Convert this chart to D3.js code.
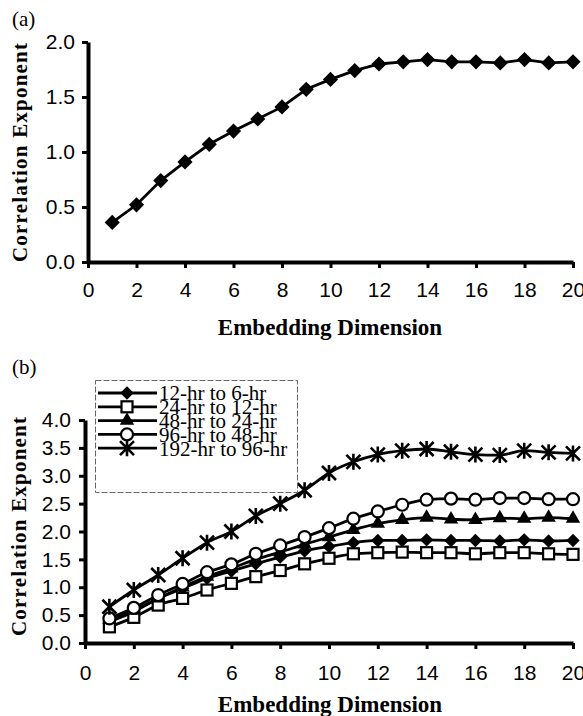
<!DOCTYPE html>
<html>
<head>
<meta charset="utf-8">
<script src="https://cdn.jsdelivr.net/npm/d3@7"></script>
<style>
  body { margin: 0; background: #fff; }
  svg { display: block; font-family: "Liberation Serif", "Times New Roman", serif; }
</style>
</head>
<body>
<svg id="chart" width="583" height="716"></svg>
<script>
// data
var dims = [1, 2, 3, 4, 5, 6, 7, 8, 9, 10, 11, 12, 13, 14, 15, 16, 17, 18, 19, 20];
var xTicks = [0, 2, 4, 6, 8, 10, 12, 14, 16, 18, 20];
var yTicksA = [0, 0.5, 1, 1.5, 2];
var yTicksB = [0, 0.5, 1, 1.5, 2, 2.5, 3, 3.5, 4];

var panelA = [0.36, 0.52, 0.74, 0.91, 1.07, 1.19, 1.30, 1.41, 1.57, 1.66, 1.74, 1.80, 1.82, 1.84, 1.82, 1.82, 1.81, 1.84, 1.81, 1.82];

var s12 = [0.38, 0.56, 0.80, 0.98, 1.16, 1.29, 1.42, 1.54, 1.65, 1.73, 1.80, 1.84, 1.84, 1.85, 1.84, 1.84, 1.83, 1.85, 1.83, 1.84];
var s24 = [0.29, 0.46, 0.68, 0.80, 0.95, 1.07, 1.19, 1.30, 1.42, 1.52, 1.60, 1.62, 1.63, 1.62, 1.62, 1.60, 1.62, 1.62, 1.60, 1.59];
var s48 = [0.42, 0.58, 0.80, 1.00, 1.19, 1.34, 1.50, 1.63, 1.77, 1.90, 2.03, 2.14, 2.21, 2.25, 2.22, 2.21, 2.24, 2.23, 2.25, 2.23];
var s96 = [0.44, 0.63, 0.86, 1.06, 1.27, 1.41, 1.60, 1.75, 1.90, 2.06, 2.23, 2.36, 2.48, 2.57, 2.59, 2.57, 2.60, 2.60, 2.58, 2.58];
var s192 = [0.65, 0.95, 1.22, 1.52, 1.80, 2.00, 2.28, 2.50, 2.74, 3.05, 3.25, 3.38, 3.45, 3.48, 3.43, 3.38, 3.37, 3.45, 3.42, 3.40];

var seriesNames = ["12-hr to 6-hr", "24-hr to 12-hr", "48-hr to 24-hr", "96-hr to 48-hr", "192-hr to 96-hr"];
var seriesMarkers = ["diamond", "square", "triangle", "circle", "star"];
var seriesValues = [s12, s24, s48, s96, s192];

var svg = d3.select("#chart");

// draws one marker at 0,0 inside g
function marker(g, type, big) {
	if (type == "diamond") {
		g.append("path").attr("d", d3.symbol(d3.symbolSquare, big ? 115 : 90)())
			.attr("transform", "rotate(45)").attr("fill", "#000");
	} else if (type == "square") {
		g.append("rect").attr("x", -5.5).attr("y", -5.5).attr("width", 11).attr("height", 11)
			.attr("fill", "#fff").attr("stroke", "#000").attr("stroke-width", 2.2);
	} else if (type == "triangle") {
		g.append("path").attr("d", d3.symbol(d3.symbolTriangle, 90)()).attr("fill", "#000");
	} else if (type == "circle") {
		g.append("circle").attr("r", 6).attr("fill", "#fff").attr("stroke", "#000").attr("stroke-width", 2.2);
	} else if (type == "star") {
		var s = 7;
		g.append("path").attr("d", "M" + (-s) + "," + (-s) + "L" + s + "," + s + "M" + s + "," + (-s) + "L" + (-s) + "," + s + "M0," + (-s - 1) + "L0," + (s + 1))
			.attr("stroke", "#000").attr("stroke-width", 2.6).attr("fill", "none");
	}
}

function drawAxes(x, y, yTicks, yFmt, xPad, yPad) {
	var xa = svg.append("g").attr("transform", "translate(0," + y.range()[0] + ")")
		.call(d3.axisBottom(x).tickValues(xTicks).tickSize(6).tickSizeOuter(0).tickPadding(xPad).tickFormat(d3.format("d")));
	var ya = svg.append("g").attr("transform", "translate(" + x.range()[0] + ",0)")
		.call(d3.axisLeft(y).tickValues(yTicks).tickSize(6).tickSizeOuter(0).tickPadding(yPad).tickFormat(yFmt));
	[xa, ya].forEach(function(a) {
		a.select(".domain").attr("stroke", "#000").attr("stroke-width", 4);
		a.selectAll(".tick line").attr("stroke", "#000").attr("stroke-width", 3);
		a.selectAll(".tick text").attr("fill", "#000").style("font-size", "21px");
	});
}

function titles(cx, xTitleY, yTitleX, yTitleY, label, labelY) {
	svg.append("text").attr("x", cx).attr("y", xTitleY).attr("text-anchor", "middle")
		.style("font-size", "23px").style("font-weight", "bold").text("Embedding Dimension");
	svg.append("text").attr("transform", "translate(" + yTitleX + "," + yTitleY + ") rotate(-90)")
		.attr("text-anchor", "middle").style("font-size", "21px").style("font-weight", "bold")
		.style("letter-spacing", "1.2px").text("Correlation Exponent");
	svg.append("text").attr("x", 12).attr("y", labelY).style("font-size", "21px").text(label);
}

// panel (a)
var xA = d3.scaleLinear().domain([0, 20]).range([88, 573]);
var yA = d3.scaleLinear().domain([0, 2]).range([262, 42]);
drawAxes(xA, yA, yTicksA, d3.format(".1f"), 14, 7);
titles(330, 335, 27, 152, "(a)", 26);

var lineA = d3.line().x(function(d, i) { return xA(dims[i]); }).y(function(d) { return yA(d); });
svg.append("path").datum(panelA).attr("d", lineA).attr("fill", "none").attr("stroke", "#000").attr("stroke-width", 2.8);
svg.selectAll(".ptA").data(panelA).enter().append("g").attr("class", "ptA")
	.attr("transform", function(d, i) { return "translate(" + xA(dims[i]) + "," + yA(d) + ")"; })
	.each(function() { marker(d3.select(this), "diamond", true); });

// panel (b)
var xB = d3.scaleLinear().domain([0, 20]).range([85, 573]);
var yB = d3.scaleLinear().domain([0, 4]).range([643, 420]);
drawAxes(xB, yB, yTicksB, d3.format(".1f"), 16, 8);
titles(330, 712, 26, 526, "(b)", 374);

var lineB = d3.line().curve(d3.curveMonotoneX)
	.x(function(d, i) { return xB(dims[i]); }).y(function(d) { return yB(d); });

seriesValues.forEach(function(vals, k) {
	var g = svg.append("g");
	g.append("path").datum(vals).attr("d", lineB).attr("fill", "none").attr("stroke", "#000").attr("stroke-width", 2.8);
	g.selectAll("g").data(vals).enter().append("g")
		.attr("transform", function(d, i) { return "translate(" + xB(dims[i]) + "," + yB(d) + ")"; })
		.each(function() { marker(d3.select(this), seriesMarkers[k], false); });
});

// legend
var leg = svg.append("g");
leg.append("rect").attr("x", 95.5).attr("y", 380.5).attr("width", 202).attr("height", 112)
	.attr("fill", "#fff").attr("stroke", "#666").attr("stroke-width", 1).attr("stroke-dasharray", "6,2");
seriesNames.forEach(function(name, k) {
	var ry = 393 + k * 13.8;
	leg.append("line").attr("x1", 98).attr("x2", 157).attr("y1", ry).attr("y2", ry)
		.attr("stroke", "#000").attr("stroke-width", 2.8);
	marker(leg.append("g").attr("transform", "translate(127," + ry + ")"), seriesMarkers[k], false);
	leg.append("text").attr("x", 159).attr("y", ry).attr("dy", "0.35em")
		.style("font-size", "21px").text(name);
});
</script>
</body>
</html>
